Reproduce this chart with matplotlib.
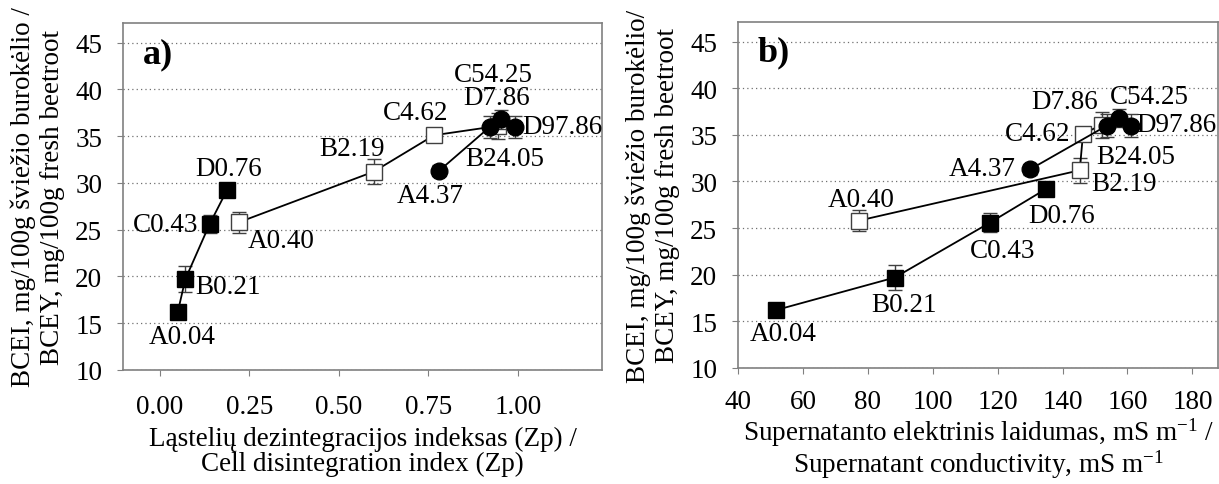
import matplotlib
matplotlib.use("Agg")
import matplotlib.pyplot as plt

plt.rcParams['font.family'] = ['Liberation Serif', 'DejaVu Serif']
plt.rcParams['mathtext.fontset'] = 'custom'
plt.rcParams['mathtext.rm'] = 'Liberation Serif'
plt.rcParams['mathtext.it'] = 'Liberation Serif:italic'
plt.rcParams['mathtext.bf'] = 'Liberation Serif:bold'

# ---- data ----
bcei_filled = [16.2, 19.7, 25.6, 29.2]
bcei_open = [25.8, 31.2, 35.1, 36.1]
bcei_circ = [31.3, 36.0, 36.8, 36.0]
err_filled = [0.4, 1.37, 1.0, 0.5]
err_open = [1.1, 1.35, 0.5, 1.4]
err_circ = [0.6, 1.2, 1.0, 1.2]

zp_filled = [0.050, 0.071, 0.139, 0.187]
zp_open = [0.221, 0.597, 0.766, 0.945]
zp_circ = [0.780, 0.922, 0.952, 0.992]

cond_filled = [51.6, 88.3, 117.7, 134.9]
cond_open = [77.2, 145.3, 146.3, 152.2]
cond_circ = [130.0, 153.7, 157.3, 161.0]

lab_filled = ["A0.04", "B0.21", "C0.43", "D0.76"]
lab_open = ["A0.40", "B2.19", "C4.62", "D7.86"]
lab_circ = ["A4.37", "B24.05", "C54.25", "D97.86"]

yticks = [10, 15, 20, 25, 30, 35, 40, 45]
xticks_a = [0.00, 0.25, 0.50, 0.75, 1.00]
xticklabels_a = ["0.00", "0.25", "0.50", "0.75", "1.00"]
xticks_b = [40, 60, 80, 100, 120, 140, 160, 180]

# label placement: (dx, dy) in pixels (dy up), horizontal alignment
off_a = {
    "A0.04": (4, -24, 'center'), "B0.21": (10, -7, 'left'), "C0.43": (-11, 0, 'right'),
    "D0.76": (2, 22, 'center'), "A0.40": (9, -18, 'left'), "B2.19": (-22, 23, 'center'),
    "C4.62": (-18, 23, 'center'), "D7.86": (-2, 28, 'center'), "C54.25": (-7, 45, 'center'),
    "D97.86": (7, 0, 'left'), "B24.05": (15, -32, 'center'), "A4.37": (-9, -25, 'center'),
}
off_b = {
    "A0.04": (8, -23, 'center'), "B0.21": (9, -27, 'center'), "C0.43": (12, -28, 'center'),
    "D0.76": (16, -27, 'center'), "A0.40": (2, 21, 'center'), "B2.19": (12, -13, 'left'),
    "C4.62": (-13, 0, 'right'), "D7.86": (-4, 23, 'right'), "C54.25": (31, 22, 'center'),
    "D97.86": (6, 1, 'left'), "B24.05": (29, -31, 'center'), "A4.37": (-14, 1, 'right'),
}

fig = plt.figure(figsize=(12.19, 4.85), dpi=100)
ax_a = fig.add_axes([123/1219, 1-371/485, 479/1219, 347/485])
ax_b = fig.add_axes([738/1219, 1-369/485, 480/1219, 346/485])

FS = 19.5
grey = '#808080'

def draw(ax, xf, xo, xc, offs):
    ax.set_axisbelow(True)
    ax.yaxis.grid(True, linestyle=(0, (1, 2.5)), color='#707070', linewidth=0.9)
    ek = dict(ecolor='#404040', elinewidth=1.0, capsize=5, capthick=1.0)
    ax.errorbar(xo, bcei_open, yerr=err_open, color='black', lw=1.3, marker='s', ms=11,
                mfc='white', mec='#404040', mew=1.0, zorder=3, **ek)
    ax.errorbar(xf, bcei_filled, yerr=err_filled, color='black', lw=1.3, marker='s', ms=11,
                mfc='black', mec='black', zorder=4, **ek)
    ax.errorbar(xc, bcei_circ, yerr=err_circ, color='black', lw=1.3, marker='o', ms=12,
                mfc='black', mec='black', zorder=5, **ek)
    for xs, ys, labs in ((xf, bcei_filled, lab_filled), (xo, bcei_open, lab_open),
                         (xc, bcei_circ, lab_circ)):
        for x, y, l in zip(xs, ys, labs):
            dx, dy, ha = offs[l]
            ax.annotate(l, (x, y), xytext=(dx, dy), textcoords='offset pixels',
                        ha=ha, va='center', fontsize=FS, zorder=6)
    ax.set_ylim(10, 47.1)
    ax.set_yticks(yticks)
    for s in ax.spines.values():
        s.set_color(grey)
        s.set_linewidth(1.2)
    ax.tick_params(axis='both', direction='out', length=4, color=grey, labelsize=FS)
    ax.tick_params(axis='y', pad=11)

draw(ax_a, zp_filled, zp_open, zp_circ, off_a)
ax_a.set_xlim(-0.103, 1.235)
ax_a.set_xticks(xticks_a)
ax_a.set_xticklabels(xticklabels_a)
ax_a.tick_params(axis='x', pad=13)
ax_a.set_xlabel("Ląstelių dezintegracijos indeksas (Zp) /\nCell disintegration index (Zp)",
                fontsize=FS, linespacing=1.0, labelpad=5)
ax_a.set_ylabel("BCEI, mg/100g šviežio burokėlio /\nBCEY, mg/100g fresh beetroot",
                fontsize=FS, linespacing=1.22, labelpad=7)
ax_a.text(0.073, 0.91, "a)", transform=ax_a.transAxes, fontsize=26, fontweight='bold',
          ha='center', va='center')

draw(ax_b, cond_filled, cond_open, cond_circ, off_b)
ax_b.set_xlim(40, 187.9)
ax_b.set_xticks(xticks_b)
ax_b.tick_params(axis='x', pad=11)
ax_b.set_xlabel("Supernatanto elektrinis laidumas, mS m$^{-1}$ /\nSupernatant conductivity, mS m$^{-1}$",
                fontsize=FS, linespacing=1.0, labelpad=1)
ax_b.set_ylabel("BCEI, mg/100g šviežio burokėlio/\nBCEY, mg/100g fresh beetroot",
                fontsize=FS, linespacing=1.22, labelpad=7)
ax_b.text(0.074, 0.913, "b)", transform=ax_b.transAxes, fontsize=26, fontweight='bold',
          ha='center', va='center')

fig.savefig("out.png", dpi=100)
